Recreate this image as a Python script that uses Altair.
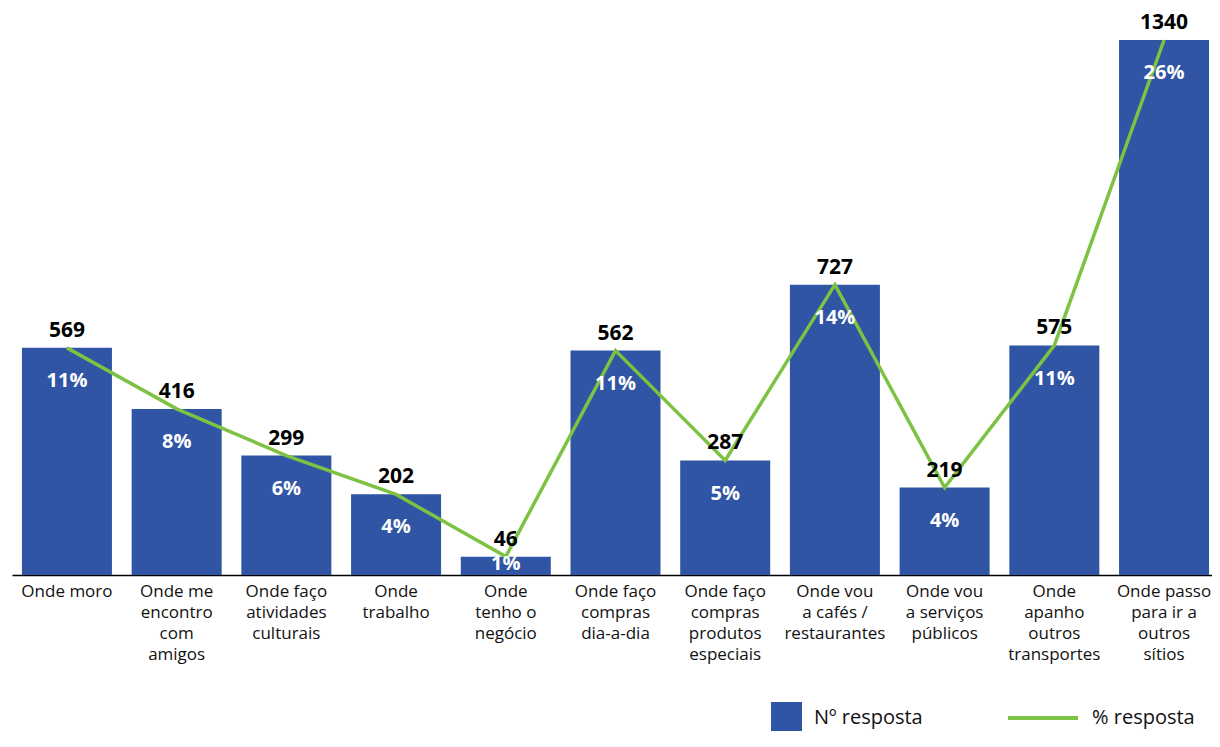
import altair as alt
import pandas as pd

categories = [
    "Onde moro",
    "Onde me|encontro|com|amigos",
    "Onde faço|atividades|culturais",
    "Onde|trabalho",
    "Onde|tenho o|negócio",
    "Onde faço|compras|dia-a-dia",
    "Onde faço|compras|produtos|especiais",
    "Onde vou|a cafés /|restaurantes",
    "Onde vou|a serviços|públicos",
    "Onde|apanho|outros|transportes",
    "Onde passo|para ir a|outros|sítios",
]
counts = [569, 416, 299, 202, 46, 562, 287, 727, 219, 575, 1340]
pcts = [10.85, 7.94, 5.70, 3.85, 0.88, 10.72, 5.47, 13.87, 4.18, 10.97, 25.56]
pct_labels = ["11%", "8%", "6%", "4%", "1%", "11%", "5%", "14%", "4%", "11%", "26%"]

BLUE = "#2F55A4"
GREEN = "#7DC242"
FONT = "Open Sans"

df = pd.DataFrame({
    "cat": categories,
    "count": counts,
    "pct": pcts,
    "pct_label": pct_labels,
    "bar_series": ["Nº resposta"] * len(categories),
    "line_series": ["% resposta"] * len(categories),
})

x = alt.X(
    "cat:N",
    sort=categories,
    title=None,
    scale=alt.Scale(paddingInner=0.18, paddingOuter=0.059, align=0.77),
    axis=alt.Axis(
        labelExpr="split(datum.label, '|')",
        labelAngle=0,
        labelFontSize=17,
        labelFont=FONT,
        labelColor="#111111",
        labelLineHeight=21,
        labelPadding=8,
        labelLimit=200,
        ticks=False,
        domainColor="#000000",
        domainWidth=1.5,
        grid=False,
    ),
)

y_count = alt.Scale(domain=[0, 1400], nice=False)
y_pct = alt.Scale(domain=[0, 26.707], nice=False)

base = alt.Chart(df)

bars = base.mark_bar(size=90).encode(
    x=x,
    y=alt.Y("count:Q", scale=y_count, axis=None),
    color=alt.Color(
        "bar_series:N",
        scale=alt.Scale(range=[BLUE]),
        legend=alt.Legend(
            title=None, orient="none", legendX=759, legendY=686,
            symbolType="square", symbolSize=961, symbolStrokeWidth=0,
            labelFontSize=20, labelFont=FONT, labelColor="#111111",
            labelOffset=12,
        ),
    ),
)

count_text = base.mark_text(
    baseline="bottom", dy=-7, fontSize=21, fontWeight="bold", font=FONT, color="#000000"
).encode(
    x=x,
    y=alt.Y("count:Q", scale=y_count, axis=None),
    text="count:Q",
)

line = base.mark_line(strokeWidth=3.5).encode(
    x=x,
    y=alt.Y("pct:Q", scale=y_pct, axis=None),
    stroke=alt.Stroke(
        "line_series:N",
        scale=alt.Scale(range=[GREEN]),
        legend=alt.Legend(
            title=None, orient="none", legendX=994, legendY=665,
            symbolType="stroke", symbolSize=4900, symbolStrokeWidth=4,
            labelFontSize=20, labelFont=FONT, labelColor="#111111",
            labelOffset=12, labelLimit=300,
        ),
    ),
)

pct_text = base.transform_calculate(
    ly="max(datum.pct - 1.6, datum.pct * 0.6)"
).mark_text(
    baseline="middle", fontSize=20, fontWeight="bold", font=FONT, color="#FFFFFF"
).encode(
    x=x,
    y=alt.Y("ly:Q", scale=y_pct, axis=None),
    text="pct_label:N",
)

chart = alt.layer(bars, line, count_text, pct_text).resolve_scale(
    y="independent", color="independent"
).properties(
    width=1200,
    height=559,
    autosize=alt.AutoSizeParams(type="none"),
    padding={"left": 4, "top": 8, "right": 0, "bottom": 156},
).configure_view(stroke=None)

chart.save("out.html", embed_options={"renderer": "svg", "actions": False})
